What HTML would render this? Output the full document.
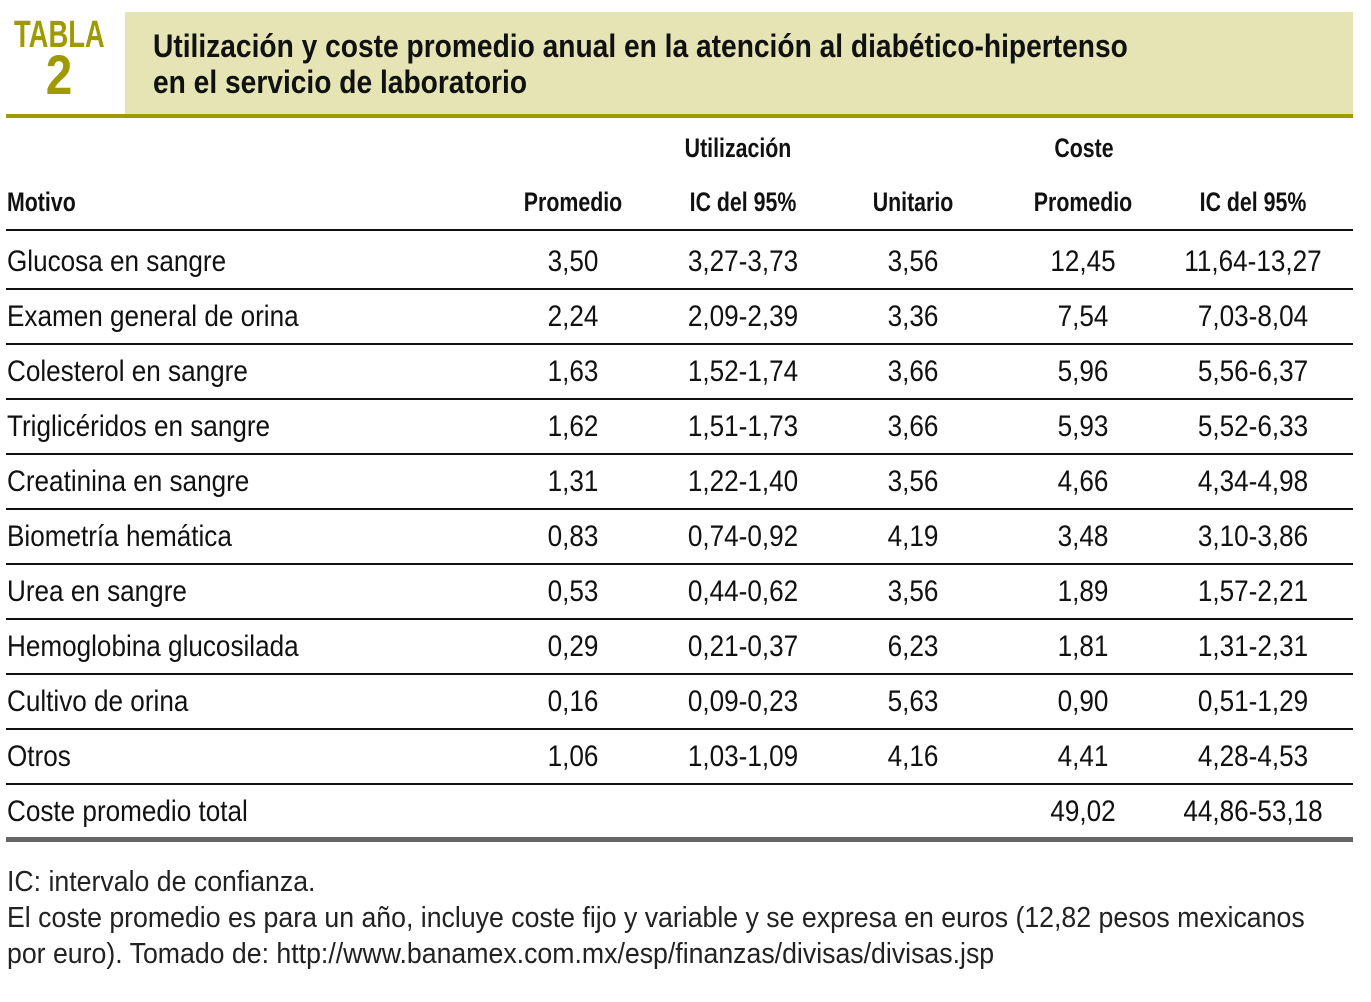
<!DOCTYPE html>
<html><head><meta charset="utf-8">
<style>
body{margin:0;width:1371px;height:1002px;background:#fff;position:relative;overflow:hidden;font-family:"Liberation Sans",sans-serif;color:#111}
.a{position:absolute;white-space:nowrap}
.l{transform-origin:0 50%}
.t{font-size:30px;line-height:30px}
.t.l{transform:scaleX(0.87)}
.t.c{transform:translateX(-50%) scaleX(0.87)}
.h{font-size:27px;line-height:28px;font-weight:bold}
.h.l{transform:scaleX(0.79)}
.h.c{transform:translateX(-50%) scaleX(0.79)}
.hr{position:absolute;left:6px;width:1347px;height:1.5px;background:#111}
</style></head><body>
<div class="a l" style="left:14px;top:15px;font-size:38px;line-height:40px;font-weight:bold;color:#9e9a00;transform:scaleX(0.72)">TABLA</div>
<div class="a" style="left:59px;top:47px;font-size:56px;line-height:56px;font-weight:bold;color:#9e9a00;transform:translateX(-50%) scaleX(0.85)">2</div>
<div class="a" style="left:125px;top:12px;width:1228px;height:102px;background:#e5e4b5"></div>
<div class="a l" style="left:153px;top:28px;font-size:32px;line-height:36px;font-weight:bold;transform:scaleX(0.88)">Utilización y coste promedio anual en la atención al diabético-hipertenso<br>en el servicio de laboratorio</div>
<div class="a" style="left:6px;top:114px;width:1347px;height:4px;background:#9e9a00"></div>

<div class="a h c" style="left:738px;top:134px">Utilización</div>
<div class="a h c" style="left:1084px;top:134px">Coste</div>
<div class="a h l" style="left:7px;top:188px">Motivo</div>
<div class="a h c" style="left:573px;top:188px">Promedio</div>
<div class="a h c" style="left:743px;top:188px">IC del 95%</div>
<div class="a h c" style="left:913px;top:188px">Unitario</div>
<div class="a h c" style="left:1083px;top:188px">Promedio</div>
<div class="a h c" style="left:1253px;top:188px">IC del 95%</div>

<div id="rows"></div>
<div class="a" style="left:6px;top:837px;width:1347px;height:5px;background:#666"></div>

<div class="a l" style="left:7px;top:864px;font-size:29px;line-height:36px;color:#222;transform:scaleX(0.92)">IC: intervalo de confianza.<br>El coste promedio es para un año, incluye coste fijo y variable y se expresa en euros (12,82 pesos mexicanos<br>por euro). Tomado de: http://www.banamex.com.mx/esp/finanzas/divisas/divisas.jsp</div>

<script>
const motivos=["Glucosa en sangre","Examen general de orina","Colesterol en sangre","Triglicéridos en sangre","Creatinina en sangre","Biometría hemática","Urea en sangre","Hemoglobina glucosilada","Cultivo de orina","Otros","Coste promedio total"];
const promedio=["3,50","2,24","1,63","1,62","1,31","0,83","0,53","0,29","0,16","1,06",""];
const icUtil=["3,27-3,73","2,09-2,39","1,52-1,74","1,51-1,73","1,22-1,40","0,74-0,92","0,44-0,62","0,21-0,37","0,09-0,23","1,03-1,09",""];
const unitario=["3,56","3,36","3,66","3,66","3,56","4,19","3,56","6,23","5,63","4,16",""];
const costeProm=["12,45","7,54","5,96","5,93","4,66","3,48","1,89","1,81","0,90","4,41","49,02"];
const icCoste=["11,64-13,27","7,03-8,04","5,56-6,37","5,52-6,33","4,34-4,98","3,10-3,86","1,57-2,21","1,31-2,31","0,51-1,29","4,28-4,53","44,86-53,18"];
const root=document.getElementById('rows');
const cols=[[promedio,573,'promedio'],[icUtil,743,'ic-utilizacion'],[unitario,913,'unitario'],[costeProm,1083,'coste-promedio'],[icCoste,1253,'ic-coste']];
function add(parent,html){parent.insertAdjacentHTML('beforeend',html);return parent.lastElementChild;}
const lineY=[229,288,343,398,453,508,563,618,673,728,783];
lineY.forEach((y)=>{
  const l=add(root,`<div class="hr" style="top:${y}px"></div>`);
  
  
});
motivos.forEach((m,i)=>{
  const cy=262+55*i;
  const el=add(root,`<div class="a t l" style="left:7px;top:${cy-15}px">${m}</div>`);
  
  
  cols.forEach(([arr,x,n])=>{
    if(!arr[i])return;
    const c=add(root,`<div class="a t c" style="left:${x}px;top:${cy-15}px">${arr[i]}</div>`);
    
    
  });
});
</script>
</body></html>
